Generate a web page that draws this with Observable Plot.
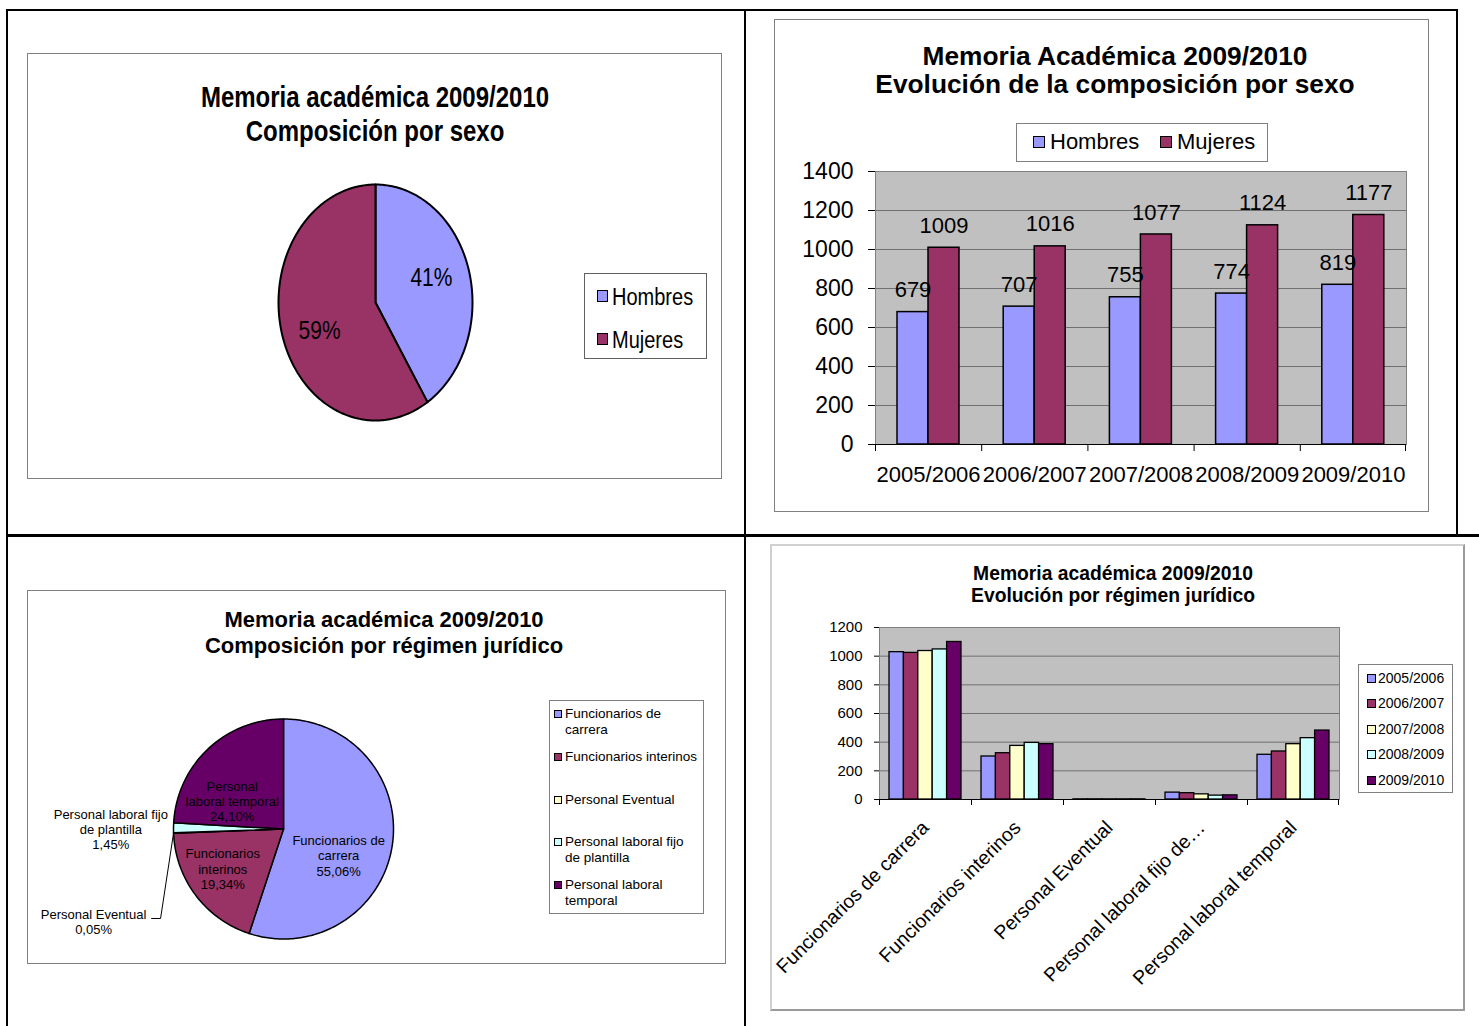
<!DOCTYPE html>
<html><head><meta charset="utf-8">
<script src="https://cdn.jsdelivr.net/npm/d3@7"></script>
<script src="https://cdn.jsdelivr.net/npm/@observablehq/plot@0.6"></script>
<style>
body{margin:0;background:#fff;}
#page{position:relative;width:1479px;height:1026px;overflow:hidden;font-family:"Liberation Sans",Arial,sans-serif;color:#000;background:#fff;}
.ln{position:absolute;background:#000;}
.box{position:absolute;box-sizing:border-box;border:1px solid #808080;background:#fff;}
.ttl{position:absolute;font-weight:bold;white-space:nowrap;text-align:center;}
.leg{position:absolute;box-sizing:border-box;border:1px solid #808080;background:#fff;}
.sw{position:absolute;box-sizing:border-box;border:1.5px solid #000;}
.lt{position:absolute;white-space:nowrap;}
svg{position:absolute;}
</style></head>
<body><div id="page"></div>
<script>
// ---------------- DATA ----------------
const sexos = ["Hombres", "Mujeres"];
const pctSexo = [41, 59];
const cursos = ["2005/2006", "2006/2007", "2007/2008", "2008/2009", "2009/2010"];
const hombres = [679, 707, 755, 774, 819];
const mujeres = [1009, 1016, 1077, 1124, 1177];
const ticksSexo = [0, 200, 400, 600, 800, 1000, 1200, 1400];

const regimenes = ["Funcionarios de carrera", "Funcionarios interinos", "Personal Eventual", "Personal laboral fijo de plantilla", "Personal laboral temporal"];
const pctRegimen = [55.06, 19.34, 0.05, 1.45, 24.10];
const etiquetasPieRegimen = ["Funcionarios de\ncarrera", "Funcionarios\ninterinos", "Personal Eventual", "Personal laboral fijo\nde plantilla", "Personal\nlaboral temporal"];
const leyendaRegimen = ["Funcionarios de\ncarrera", "Funcionarios interinos", "Personal Eventual", "Personal laboral fijo\nde plantilla", "Personal laboral\ntemporal"];
const ejeRegimen = ["Funcionarios de carrera", "Funcionarios interinos", "Personal Eventual", "Personal laboral fijo de…", "Personal laboral temporal"];
const reg0506 = [1028, 300, 1, 48, 312];
const reg0607 = [1023, 323, 1, 44, 335];
const reg0708 = [1036, 374, 1, 36, 386];
const reg0809 = [1047, 395, 1, 27, 428];
const reg0910 = [1099, 386, 1, 29, 481];
const ticksRegimen = [0, 200, 400, 600, 800, 1000, 1200];

const titulo1 = ["Memoria académica 2009/2010", "Composición por sexo"];
const titulo2 = ["Memoria Académica 2009/2010", "Evolución de la composición por sexo"];
const titulo3 = ["Memoria académica 2009/2010", "Composición por régimen jurídico"];
const titulo4 = ["Memoria académica 2009/2010", "Evolución por régimen jurídico"];

// ---------------- STYLE ----------------
const colSexo = ["#9999FF", "#993366"];
const colReg = ["#9999FF", "#993366", "#FFFFCC", "#CCFFFF", "#660066"];
const colCurso = ["#9999FF", "#993366", "#FFFFCC", "#CCFFFF", "#660066"];
const FONT = "'Liberation Sans', Arial, sans-serif";
const STRETCH = 1.22; // top-left panel is vertically stretched
const plain = d => String(d);

const page = document.getElementById("page");
function div(cls, css, text) {
  const d = document.createElement("div");
  d.className = cls;
  Object.assign(d.style, css);
  if (text != null) d.textContent = text;
  page.appendChild(d);
  return d;
}
function place(svg, left, top) {
  svg.style.left = left + "px";
  svg.style.top = top + "px";
  page.appendChild(svg);
}
function title(lines, cx, cys, fs, sy = 1) {
  lines.forEach((t, i) => {
    div("ttl", {left: cx + "px", top: (cys[i] - fs * 0.5) + "px", fontSize: fs + "px", lineHeight: fs + "px",
      transform: `translateX(-50%) scaleY(${sy})`, transformOrigin: "50% 50%"}, t);
  });
}
function pct(v) { return v.toFixed(2).replace(".", ",") + "%"; }

// outer table lines
div("ln", {left: "6px", top: "9px", width: "1452px", height: "2px"});
div("ln", {left: "6px", top: "9px", width: "2px", height: "1017px"});
div("ln", {left: "744px", top: "9px", width: "2px", height: "1017px"});
div("ln", {left: "1456px", top: "9px", width: "2px", height: "527px"});
div("ln", {left: "6px", top: "534px", width: "1473px", height: "3px"});

// chart boxes
div("box", {left: "27px", top: "53px", width: "695px", height: "426px"});
div("box", {left: "774px", top: "19px", width: "655px", height: "493px"});
div("box", {left: "27px", top: "590px", width: "699px", height: "374px"});
div("box", {left: "770px", top: "544px", width: "695px", height: "467px", borderColor: "#d0d0d0 #9a9a9a #9a9a9a #d0d0d0", borderWidth: "2px"});

// pie geometry from values
function pieGeometry(names, values) {
  const total = d3.sum(values);
  const verts = [], mids = [];
  let acc = 0;
  names.forEach((name, i) => {
    const a0 = acc / total * 2 * Math.PI;
    acc += values[i];
    const a1 = acc / total * 2 * Math.PI;
    const n = Math.max(2, Math.ceil((a1 - a0) / (Math.PI / 180)));
    verts.push({name, x: 0, y: 0});
    for (let k = 0; k <= n; k++) {
      const a = a0 + (a1 - a0) * k / n;
      verts.push({name, x: Math.sin(a), y: Math.cos(a)});
    }
    mids.push({name, i, value: values[i], angle: (a0 + a1) / 2});
  });
  return {verts, mids};
}

// ============ 1. Pie por sexo ============
{
  const g = pieGeometry(sexos, pctSexo);
  const nudge = [[0, -5], [0, 9]];
  const svg = Plot.plot({
    width: 694, height: 425, margin: 0,
    x: {domain: [-1, 1], range: [251, 445], axis: null},
    y: {domain: [-1, 1], range: [367, 131], axis: null},
    color: {domain: sexos, range: colSexo},
    style: {background: "transparent", fontFamily: FONT, fontSize: "21px", color: "#000", overflow: "visible"},
    marks: [
      Plot.line(g.verts, {x: "x", y: "y", z: "name", fill: "name", stroke: "#000", strokeWidth: 2, curve: "linear-closed"}),
      ...g.mids.map((m, k) => Plot.text([m], {x: d => 0.6 * Math.sin(d.angle), y: d => 0.6 * Math.cos(d.angle),
        text: d => d.value + "%", fill: "#000", fontSize: 21, dx: nudge[k][0], dy: nudge[k][1]}))
    ]
  });
  svg.querySelectorAll("text").forEach(t => {
    const tr = t.getAttribute("transform");
    t.setAttribute("transform", (tr ? tr + " " : "") + `scale(1,${STRETCH})`);
  });
  place(svg, 27, 53);
  title(titulo1, 375, [97, 131], 24, STRETCH);
  div("leg", {left: "584px", top: "273px", width: "123px", height: "86px", borderColor: "#606060"});
  sexos.forEach((s, i) => {
    const cy = [296, 339][i];
    div("sw", {left: "597px", top: (cy - 6) + "px", width: "11px", height: "12px", background: colSexo[i]});
    div("lt", {left: "612px", top: (cy - 10) + "px", fontSize: "20px", lineHeight: "20px", transform: `scaleY(${STRETCH})`}, s);
  });
}

// ============ 2. Barras por sexo ============
{
  const rows = cursos.map((c, i) => ({curso: c, hombres: hombres[i], mujeres: mujeres[i]}));
  const W = 654, H = 492, ml = 101, mr = 22, mt = 152, mb = 67;
  const bw = (W - ml - mr) / cursos.length;
  const svg = Plot.plot({
    width: W, height: H, marginLeft: ml, marginRight: mr, marginTop: mt, marginBottom: mb,
    x: {domain: cursos, padding: 0, round: false},
    y: {domain: [0, 1400]},
    style: {background: "transparent", fontFamily: FONT, fontSize: "22px", color: "#000", overflow: "visible"},
    marks: [
      Plot.frame({fill: "#C0C0C0", stroke: "none"}),
      Plot.ruleY(ticksSexo, {stroke: "#707070", strokeWidth: 1}),
      Plot.frame({stroke: "#808080"}),
      Plot.barY(rows, {x: "curso", y: "hombres", fill: colSexo[0], stroke: "#000", strokeWidth: 1.5, insetLeft: 22, insetRight: bw - 53}),
      Plot.barY(rows, {x: "curso", y: "mujeres", fill: colSexo[1], stroke: "#000", strokeWidth: 1.5, insetLeft: 53, insetRight: bw - 84}),
      Plot.ruleY([0], {stroke: "#000", strokeWidth: 1}),
      Plot.barY(cursos, {x: d => d, y1: 0, y2: 0, insetLeft: 0, insetRight: bw - 1, insetBottom: -7, fill: "#000"}),
      Plot.barY(cursos.slice(-1), {x: d => d, y1: 0, y2: 0, insetLeft: bw - 1, insetRight: 0, insetBottom: -7, fill: "#000"}),
      Plot.text(rows, {x: "curso", y: "hombres", text: d => String(d.hombres), dx: -15.6, dy: -22, fill: "#000", fontSize: 22}),
      Plot.text(rows, {x: "curso", y: "mujeres", text: d => String(d.mujeres), dx: 15.4, dy: -22, fill: "#000", fontSize: 22}),
      Plot.axisY({ticks: ticksSexo, tickFormat: plain, tickSize: 7, tickPadding: 15, label: null, fontSize: 23}),
      Plot.axisX({tickSize: 0, tickPadding: 22, label: null, fontSize: 22})
    ]
  });
  place(svg, 774, 19);
  title(titulo2, 1115, [56, 84], 26.3);
  div("leg", {left: "1016px", top: "123px", width: "252px", height: "39px"});
  sexos.forEach((s, i) => {
    const x = [1033, 1160][i];
    div("sw", {left: x + "px", top: "136px", width: "12px", height: "12px", background: colSexo[i]});
    div("lt", {left: (x + 17) + "px", top: "131px", fontSize: "22px", lineHeight: "22px"}, s);
  });
}

// ============ 3. Pie por régimen ============
{
  const g = pieGeometry(regimenes, pctRegimen);
  const place3 = [
    {r: 0.6, dx: -10, dy: 16},
    {r: 0.6, dx: -8, dy: 0},
    {r: 1.0, dx: -80, dy: 88.5},
    {r: 1.57, dx: 0, dy: 2},
    {r: 0.6, dx: -6, dy: 20}
  ];
  const ev = g.mids[2];
  const ex = Math.sin(ev.angle), ey = Math.cos(ev.angle);
  const leader = [
    {x: ex, y: ey},
    {x: ex - 13 / 110, y: ey - 85.5 / 110},
    {x: ex - 22 / 110, y: ey - 85.5 / 110}
  ];
  const svg = Plot.plot({
    width: 698, height: 373, margin: 0,
    x: {domain: [-1, 1], range: [146, 366], axis: null},
    y: {domain: [-1, 1], range: [348.5, 128.5], axis: null},
    color: {domain: regimenes, range: colReg},
    style: {background: "transparent", fontFamily: FONT, fontSize: "13px", color: "#000", overflow: "visible"},
    marks: [
      Plot.line(g.verts, {x: "x", y: "y", z: "name", fill: "name", stroke: "#000", strokeWidth: 1.5, curve: "linear-closed"}),
      Plot.line(leader, {x: "x", y: "y", stroke: "#000", strokeWidth: 1}),
      ...g.mids.map((m, k) => Plot.text([m], {
        x: d => place3[k].r * Math.sin(d.angle), y: d => place3[k].r * Math.cos(d.angle),
        text: d => etiquetasPieRegimen[d.i] + "\n" + pct(d.value),
        fill: "#000", fontSize: 13, lineHeight: 1.17, dx: place3[k].dx, dy: place3[k].dy}))
    ]
  });
  place(svg, 27, 590);
  title(titulo3, 384, [620, 646], 22);
  div("leg", {left: "549px", top: "700px", width: "155px", height: "214px"});
  const cys = [714, 757, 800, 842, 885];
  leyendaRegimen.forEach((s, i) => {
    div("sw", {left: "554px", top: (cys[i] - 4) + "px", width: "8px", height: "8px", background: colReg[i], borderWidth: "1px"});
    s.split("\n").forEach((line, j) => {
      div("lt", {left: "565px", top: (cys[i] - 7 + j * 16) + "px", fontSize: "13.5px", lineHeight: "14px"}, line);
    });
  });
}

// ============ 4. Barras por régimen ============
{
  const series = [reg0506, reg0607, reg0708, reg0809, reg0910];
  const rows = ejeRegimen.map((r, i) => ({reg: r, v: series.map(s => s[i])}));
  const W = 694, H = 466, ml = 109, mr = 125, mt = 83, mb = 211;
  const bw = (W - ml - mr) / ejeRegimen.length;
  const step = 14.4, off = 10;
  const svg = Plot.plot({
    width: W, height: H, marginLeft: ml, marginRight: mr, marginTop: mt, marginBottom: mb,
    x: {domain: ejeRegimen, padding: 0, round: false},
    y: {domain: [0, 1200]},
    style: {background: "transparent", fontFamily: FONT, fontSize: "15px", color: "#000", overflow: "visible"},
    marks: [
      Plot.frame({fill: "#C0C0C0", stroke: "none"}),
      Plot.ruleY(ticksRegimen, {stroke: "#707070", strokeWidth: 1}),
      Plot.frame({stroke: "#808080"}),
      ...cursos.map((c, j) => Plot.barY(rows, {x: "reg", y: d => d.v[j], fill: colCurso[j], stroke: "#000", strokeWidth: 1.3,
        insetLeft: off + step * j, insetRight: bw - off - step * (j + 1)})),
      Plot.ruleY([0], {stroke: "#000", strokeWidth: 1}),
      Plot.barY(ejeRegimen, {x: d => d, y1: 0, y2: 0, insetLeft: 0, insetRight: bw - 1, insetBottom: -6, fill: "#000"}),
      Plot.barY(ejeRegimen.slice(-1), {x: d => d, y1: 0, y2: 0, insetLeft: bw - 1, insetRight: 0, insetBottom: -6, fill: "#000"}),
      Plot.axisY({ticks: ticksRegimen, tickFormat: plain, tickSize: 5, tickPadding: 12, label: null, fontSize: 15}),
      Plot.axisX({tickSize: 0, tickPadding: 25, tickRotate: -45, label: null, fontSize: 19.5})
    ]
  });
  place(svg, 770, 544);
  title(titulo4, 1113, [574, 596], 19.3);
  div("leg", {left: "1358px", top: "664px", width: "95px", height: "129px"});
  const cys = [678, 703, 729, 754, 780];
  cursos.forEach((c, i) => {
    div("sw", {left: "1367px", top: (cys[i] - 4) + "px", width: "9px", height: "9px", background: colCurso[i], borderWidth: "1px"});
    div("lt", {left: "1378px", top: (cys[i] - 7) + "px", fontSize: "14px", lineHeight: "14px"}, c);
  });
}
</script>
</body></html>
